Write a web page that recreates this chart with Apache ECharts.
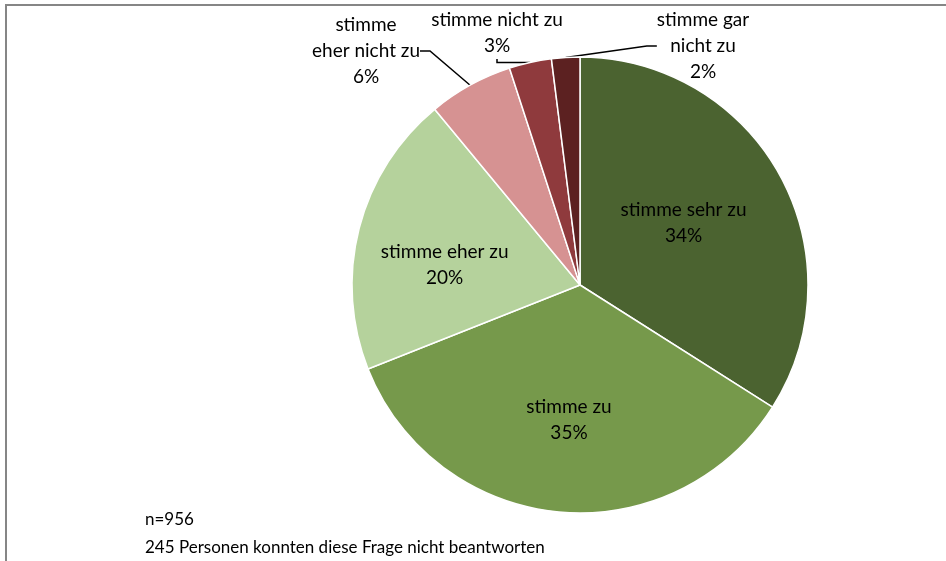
<!DOCTYPE html>
<html>
<head>
<meta charset="utf-8">
<script src="https://cdn.jsdelivr.net/npm/echarts@6/dist/echarts.min.js"></script>
<style>
  html, body { margin: 0; padding: 0; background: #fff; }
  #chart { width: 946px; height: 561px; }
</style>
</head>
<body>
<div id="chart"></div>
<script>
const categories = ['stimme sehr zu', 'stimme zu', 'stimme eher zu', 'stimme\neher nicht zu', 'stimme nicht zu', 'stimme gar\nnicht zu'];
const percents = [34, 35, 20, 6, 3, 2];
const colors = ['#4b6330', '#76994b', '#b5d29c', '#d69292', '#8f3a3d', '#5c2121'];
const insideSlices = [true, true, true, false, false, false];
const footNotes = ['n=956', '245 Personen konnten diese Frage nicht beantworten'];

const font = 'Lato, "Open Sans", sans-serif';

// Label-Feinplatzierung wie im Original (Innen: Versatz, Außen: Mittelpunkt des Textblocks)
const labelShift = [[1, -6], [0, 18], [-22, 9]];
const outsideLabelPos = { 3: [366, 51], 4: [497, 33], 5: [703, 46] };

var myChart = echarts.init(document.getElementById('chart'));

const option = {
  animation: false,
  graphic: [
    {
      type: 'rect',
      shape: { x: 6, y: 5, width: 1200, height: 1200 },
      style: { fill: 'none', stroke: '#868686', lineWidth: 2 },
      silent: true
    },
    {
      type: 'text', left: 145, top: 511,
      style: { text: footNotes[0], font: '17px ' + font, fill: '#000' }
    },
    {
      type: 'text', left: 145, top: 539,
      style: { text: footNotes[1], font: '17px ' + font, fill: '#000' }
    }
  ],
  series: [{
    type: 'pie',
    center: [580, 285],
    radius: 228,
    startAngle: 90,
    clockwise: true,
    avoidLabelOverlap: false,
    itemStyle: {
      borderColor: '#fff',
      borderWidth: 1.5
    },
    label: {
      fontFamily: font,
      fontSize: 19,
      color: '#000',
      lineHeight: 26,
      align: 'center',
      formatter: p => p.name + '\n' + p.value + '%'
    },
    labelLine: { length: 15, length2: 10, lineStyle: { color: '#000', width: 1.5 } },
    labelLayout: p => {
      const i = p.dataIndex;
      if (outsideLabelPos[i]) {
        return { x: outsideLabelPos[i][0], y: outsideLabelPos[i][1], align: 'center', verticalAlign: 'middle' };
      }
      return { dx: labelShift[i][0], dy: labelShift[i][1] };
    },
    data: categories.map((c, i) => ({
      name: c,
      value: percents[i],
      itemStyle: { color: colors[i] },
      label: { position: insideSlices[i] ? 'inside' : 'outside' },
      labelLine: { show: !insideSlices[i] }
    }))
  }]
};

myChart.setOption(option);
window.addEventListener('resize', () => myChart.resize());
</script>
</body>
</html>
